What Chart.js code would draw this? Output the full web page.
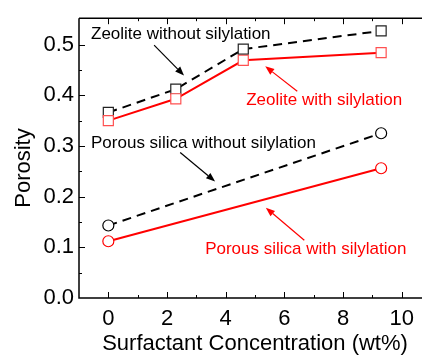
<!DOCTYPE html>
<html>
<head>
<meta charset="utf-8">
<style>
  html, body { margin: 0; padding: 0; background: #fff; overflow: hidden; }
  #wrap { width: 440px; height: 362px; }
</style>
<script src="https://cdn.jsdelivr.net/npm/chart.js@4/dist/chart.umd.min.js"></script>
</head>
<body>
<div id="wrap"><canvas id="c" width="440" height="362"></canvas></div>
<script>
// Surfactant concentration (wt%) for each sample
const zeoliteConc = [0, 2.3, 4.6, 9.3];
const silicaConc = [0, 9.3];

// Porosity values
const zeoliteWithout = [0.366, 0.412, 0.491, 0.527];
const zeoliteWith = [0.350, 0.393, 0.469, 0.484];
const silicaWithout = [0.143, 0.325];
const silicaWith = [0.112, 0.256];

// Series names (also used for the in-plot callouts)
const seriesNames = [
  'Zeolite without silylation',
  'Zeolite with silylation',
  'Porous silica without silylation',
  'Porous silica with silylation'
];

const xTickValues = [0, 2, 4, 6, 8, 10];
const yTickValues = [0.0, 0.1, 0.2, 0.3, 0.4, 0.5];
const xTitle = 'Surfactant Concentration (wt%)';
const yTitle = 'Porosity';

const FONT = '"Liberation Sans", Arial, sans-serif';

function toPoints(xs, ys) { return xs.map((x, i) => ({ x: x, y: ys[i] })); }

// Callout placement in data units: text anchor and arrow tail -> tip
const callouts = [
  { text: seriesNames[0], color: '#000', tx: -0.59, ty: 0.521, ax: 1.56, ay: 0.499, bx: 2.58, by: 0.439 },
  { text: seriesNames[1], color: '#ff0000', tx: 4.70, ty: 0.390, ax: 6.44, ay: 0.408, bx: 5.35, by: 0.457 },
  { text: seriesNames[2], color: '#000', tx: -0.59, ty: 0.3055, ax: 2.45, ay: 0.287, bx: 3.64, by: 0.230 },
  { text: seriesNames[3], color: '#ff0000', tx: 3.30, ty: 0.0968, ax: 6.68, ay: 0.114, bx: 5.37, by: 0.178 }
];

const frame = {
  id: 'frame',
  afterDraw(chart) {
    const { ctx, chartArea: a, scales } = chart;
    const xs = scales.x, ys = scales.y;
    ctx.save();
    ctx.strokeStyle = '#000';
    ctx.lineWidth = 1.5;
    // axes box: left, bottom, top
    ctx.beginPath();
    ctx.moveTo(a.left, a.top); ctx.lineTo(a.right + 2, a.top);
    ctx.moveTo(a.left, a.top); ctx.lineTo(a.left, a.bottom);
    ctx.lineTo(a.right + 2, a.bottom);
    ctx.stroke();
    // inward ticks
    ctx.lineWidth = 1;
    ctx.beginPath();
    for (let v = 0; v <= 11; v += 1) {
      const px = Math.round(xs.getPixelForValue(v)) + 0.5;
      const len = (v % 2 === 0) ? 6 : 3;
      ctx.moveTo(px, a.bottom); ctx.lineTo(px, a.bottom - len);
      ctx.moveTo(px, a.top); ctx.lineTo(px, a.top + len);
    }
    for (let k = 1; k <= 10; k++) {
      const v = k * 0.05;
      const py = Math.round(ys.getPixelForValue(v)) + 0.5;
      const len = (k % 2 === 0) ? 6 : 3;
      ctx.moveTo(a.left, py); ctx.lineTo(a.left + len, py);
    }
    ctx.stroke();

    // axis titles
    ctx.fillStyle = '#000';
    ctx.font = '22px ' + FONT;
    ctx.textAlign = 'center';
    ctx.textBaseline = 'middle';
    ctx.fillText(xTitle, (a.left + a.right) / 2, 344);
    ctx.save();
    ctx.translate(24, 168);
    ctx.rotate(-Math.PI / 2);
    ctx.fillText(yTitle, 0, 0);
    ctx.restore();

    // callouts
    ctx.font = '17px ' + FONT;
    ctx.textAlign = 'left';
    ctx.textBaseline = 'middle';
    callouts.forEach(c => {
      ctx.fillStyle = c.color;
      ctx.fillText(c.text, xs.getPixelForValue(c.tx), ys.getPixelForValue(c.ty));
      const x1 = xs.getPixelForValue(c.ax), y1 = ys.getPixelForValue(c.ay);
      const x2 = xs.getPixelForValue(c.bx), y2 = ys.getPixelForValue(c.by);
      const ang = Math.atan2(y2 - y1, x2 - x1);
      const hl = 9, hw = 3.5;
      const bxp = x2 - hl * Math.cos(ang), byp = y2 - hl * Math.sin(ang);
      ctx.strokeStyle = c.color;
      ctx.lineWidth = 1.2;
      ctx.beginPath();
      ctx.moveTo(x1, y1); ctx.lineTo(bxp, byp);
      ctx.stroke();
      ctx.beginPath();
      ctx.moveTo(x2, y2);
      ctx.lineTo(bxp + hw * Math.sin(ang), byp - hw * Math.cos(ang));
      ctx.lineTo(bxp - hw * Math.sin(ang), byp + hw * Math.cos(ang));
      ctx.closePath();
      ctx.fill();
    });
    ctx.restore();
  }
};

const lineStyle = (color, dashed, style, radius, borderW) => ({
  borderColor: color,
  borderWidth: 2,
  borderDash: dashed ? [9, 6] : [],
  pointStyle: style,
  pointRadius: radius,
  pointBorderColor: color,
  pointBackgroundColor: '#fff',
  pointBorderWidth: borderW,
  showLine: true,
  fill: false,
  tension: 0
});

new Chart(document.getElementById('c'), {
  type: 'scatter',
  data: {
    datasets: [
      Object.assign({ label: seriesNames[1], data: toPoints(zeoliteConc, zeoliteWith) },
        lineStyle('#ff0000', false, 'rect', 7.1, 1.2), { pointBorderColor: '#ff5050' }),
      Object.assign({ label: seriesNames[3], data: toPoints(silicaConc, silicaWith) },
        lineStyle('#ff0000', false, 'circle', 5.5, 1.2)),
      Object.assign({ label: seriesNames[0], data: toPoints(zeoliteConc, zeoliteWithout) },
        lineStyle('#000', true, 'rect', 7.1, 1.2), { pointBorderColor: '#222' }),
      Object.assign({ label: seriesNames[2], data: toPoints(silicaConc, silicaWithout) },
        lineStyle('#000', true, 'circle', 5.5, 1.2))
    ]
  },
  options: {
    responsive: false,
    animation: false,
    devicePixelRatio: 1,
    layout: { padding: { top: 7, right: 9, left: 0, bottom: 0 } },
    plugins: { legend: { display: false }, tooltip: { enabled: false } },
    scales: {
      x: {
        type: 'linear',
        min: -1, max: 11,
        afterFit(s) { s.height = 64; },
        afterBuildTicks(s) { s.ticks = xTickValues.map(v => ({ value: v })); },
        grid: { display: false, drawTicks: false },
        border: { display: false },
        ticks: {
          color: '#000',
          font: { family: FONT, size: 22 },
          padding: 8,
          maxRotation: 0,
          callback: v => String(v)
        }
      },
      y: {
        type: 'linear',
        min: 0, max: 0.552,
        afterFit(s) { s.width = 79; },
        afterBuildTicks(s) { s.ticks = yTickValues.map(v => ({ value: v })); },
        grid: { display: false, drawTicks: false },
        border: { display: false },
        ticks: {
          color: '#000',
          font: { family: FONT, size: 22 },
          padding: 5,
          callback: v => Number(v).toFixed(1)
        }
      }
    }
  },
  plugins: [frame]
});
</script>
</body>
</html>
